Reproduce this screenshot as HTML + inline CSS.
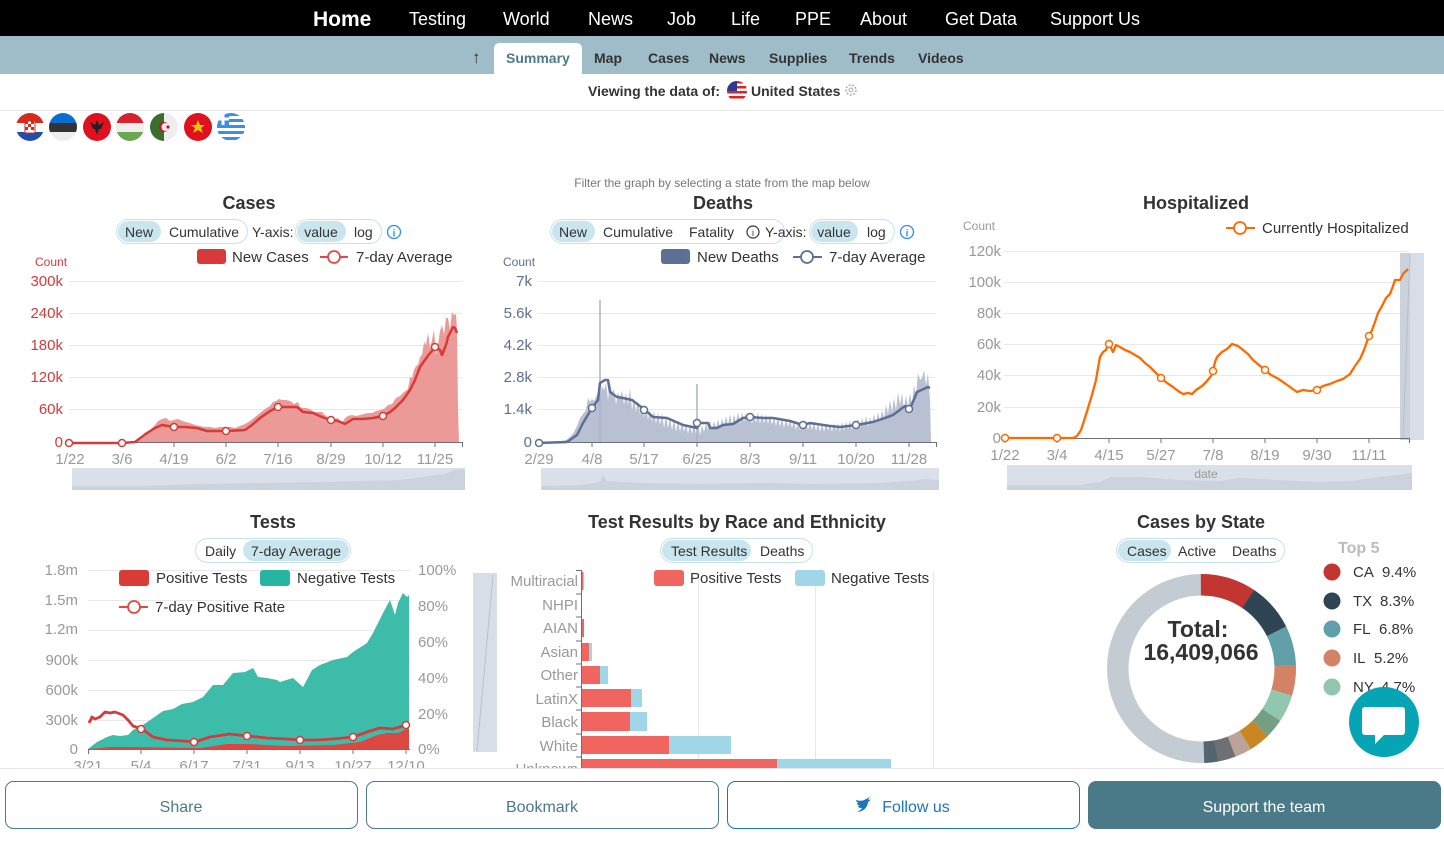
<!DOCTYPE html>
<html><head><meta charset="utf-8">
<style>
html,body{margin:0;padding:0;background:#fff;}
body{width:1444px;height:841px;overflow:hidden;position:relative;font-family:"Liberation Sans",sans-serif;}
svg text{font-family:"Liberation Sans",sans-serif;}
</style></head>
<body>
<svg width="1444" height="841" viewBox="0 0 1444 841" style="position:absolute;left:0;top:0">
<defs>
<clipPath id="fc"><circle cx="0" cy="0" r="14"/></clipPath>
<clipPath id="usc"><circle cx="0" cy="0" r="10"/></clipPath>
</defs>
<!-- top nav -->
<rect x="0" y="0" width="1444" height="36" fill="#000"/>
<g fill="#fff" font-size="18">
<text x="313" y="26" font-size="21" font-weight="bold">Home</text>
<text x="409" y="25">Testing</text>
<text x="503" y="25">World</text>
<text x="588" y="25">News</text>
<text x="667" y="25">Job</text>
<text x="731" y="25">Life</text>
<text x="795" y="25">PPE</text>
<text x="860" y="25">About</text>
<text x="945" y="25">Get Data</text>
<text x="1050" y="25">Support Us</text>
</g>
<!-- sub nav -->
<rect x="0" y="36" width="1444" height="38" fill="#9ebdc8"/>
<path d="M494,74 V49 Q494,43 500,43 H576 Q582,43 582,49 V74 Z" fill="#fff"/>
<g font-size="14" font-weight="bold" fill="#333">
<text x="472" y="63" font-weight="normal" font-size="17">↑</text>
<text x="506" y="63" fill="#4b7b8a">Summary</text>
<text x="594" y="63">Map</text>
<text x="648" y="63">Cases</text>
<text x="709" y="63">News</text>
<text x="769" y="63">Supplies</text>
<text x="849" y="63">Trends</text>
<text x="918" y="63">Videos</text>
</g>
<!-- viewing -->
<text x="588" y="96" font-size="14" font-weight="bold" fill="#333">Viewing the data of:</text>
<g transform="translate(737,91)" clip-path="url(#usc)">
<rect x="-10" y="-10" width="20" height="20" fill="#fff"/>
<rect x="-10" y="-10" width="20" height="2.5" fill="#d22"/>
<rect x="-10" y="-5" width="20" height="2.5" fill="#d22"/>
<rect x="-10" y="0" width="20" height="2.5" fill="#d22"/>
<rect x="-10" y="5" width="20" height="2.5" fill="#d22"/>
<rect x="-10" y="-10" width="10" height="10" fill="#2b3a8c"/>
</g>
<text x="751" y="96" font-size="14" font-weight="bold" fill="#333">United States</text>
<circle cx="851" cy="90" r="5" fill="none" stroke="#aaa" stroke-width="1.5" stroke-dasharray="2 1.5"/>
<circle cx="851" cy="90" r="2" fill="none" stroke="#aaa"/>
<line x1="0" y1="110.5" x2="1444" y2="110.5" stroke="#e8e8e8"/>
<!-- flags -->
<g transform="translate(30,127)" clip-path="url(#fc)">
<rect x="-14" y="-14" width="28" height="10" fill="#d52b1e"/><rect x="-14" y="-4" width="28" height="9" fill="#fff"/><rect x="-14" y="5" width="28" height="9" fill="#1f4fa8"/>
<rect x="-5" y="-6" width="10" height="12" fill="#fff" stroke="#d52b1e"/><rect x="-5" y="-6" width="3" height="3" fill="#d52b1e"/><rect x="1" y="-6" width="3" height="3" fill="#d52b1e"/><rect x="-2" y="-3" width="3" height="3" fill="#d52b1e"/><rect x="-5" y="0" width="3" height="3" fill="#d52b1e"/><rect x="1" y="0" width="3" height="3" fill="#d52b1e"/>
</g>
<g transform="translate(63,127)" clip-path="url(#fc)">
<rect x="-14" y="-14" width="28" height="10" fill="#0a6ed1"/><rect x="-14" y="-4" width="28" height="9" fill="#333"/><rect x="-14" y="5" width="28" height="9" fill="#eee"/>
</g>
<g transform="translate(97,127)" clip-path="url(#fc)">
<rect x="-14" y="-14" width="28" height="28" fill="#e0101f"/>
<path d="M-7,-5 L-2,-2 L0,-7 L2,-2 L7,-5 L4,2 L2,2 L0,8 L-2,2 L-4,2 Z" fill="#222"/>
</g>
<g transform="translate(130,127)" clip-path="url(#fc)">
<rect x="-14" y="-14" width="28" height="10" fill="#d8202f"/><rect x="-14" y="-4" width="28" height="9" fill="#eee"/><rect x="-14" y="5" width="28" height="9" fill="#6aa84f"/>
</g>
<g transform="translate(164,127)" clip-path="url(#fc)">
<rect x="-14" y="-14" width="14" height="28" fill="#3c6e2b"/><rect x="0" y="-14" width="14" height="28" fill="#eee"/>
<circle cx="0" cy="0" r="5" fill="#d21034"/><circle cx="1.5" cy="0" r="4" fill="#eee"/><circle cx="4" cy="0" r="1.6" fill="#d21034"/>
</g>
<g transform="translate(198,127)" clip-path="url(#fc)">
<rect x="-14" y="-14" width="28" height="28" fill="#e0101f"/>
<polygon points="0,-7 2,-2 7,-2 3,1 5,6 0,3 -5,6 -3,1 -7,-2 -2,-2" fill="#f5c400"/>
</g>
<g transform="translate(231,127)" clip-path="url(#fc)">
<rect x="-14" y="-14" width="28" height="28" fill="#fff"/>
<rect x="-14" y="-14" width="28" height="3" fill="#3d8ee8"/><rect x="-14" y="-8" width="28" height="3" fill="#3d8ee8"/><rect x="-14" y="-2" width="28" height="3" fill="#3d8ee8"/><rect x="-14" y="4" width="28" height="3" fill="#3d8ee8"/><rect x="-14" y="10" width="28" height="3" fill="#3d8ee8"/>
<rect x="-14" y="-14" width="12" height="12" fill="#3d8ee8"/><rect x="-9.5" y="-14" width="3" height="12" fill="#fff"/><rect x="-14" y="-9.5" width="12" height="3" fill="#fff"/>
</g>

<!-- ============ CASES ============ -->
<text x="249" y="209" text-anchor="middle" font-size="18" font-weight="bold" fill="#333">Cases</text>
<rect x="116.5" y="219.5" width="131" height="24" rx="12" fill="#fff" stroke="#c6e2eb"/>
<rect x="118" y="221" width="43" height="21" rx="10.5" fill="#c9e5ee"/>
<rect x="295.5" y="219.5" width="86" height="24" rx="12" fill="#fff" stroke="#c6e2eb"/>
<rect x="297" y="221" width="49" height="21" rx="10.5" fill="#c9e5ee"/>
<g font-size="14" fill="#333">
<text x="139" y="237" text-anchor="middle">New</text>
<text x="169" y="237">Cumulative</text>
<text x="252" y="237">Y-axis:</text>
<text x="321" y="237" text-anchor="middle">value</text>
<text x="354" y="237">log</text>
</g>
<circle cx="394" cy="232" r="6.5" fill="none" stroke="#2f8cf0" stroke-width="1.3"/><text x="394" y="236.5" text-anchor="middle" font-size="10" fill="#2f8cf0" font-weight="bold">i</text>
<rect x="197" y="249" width="29" height="15" rx="3" fill="#d63a3a"/>
<text x="232" y="262" font-size="15" fill="#333">New Cases</text>
<line x1="320" y1="257" x2="348" y2="257" stroke="#e04848" stroke-width="2"/><circle cx="334" cy="257" r="6" fill="#fff" stroke="#e04848" stroke-width="1.8"/>
<text x="356" y="262" font-size="15" fill="#333">7-day Average</text>
<text x="35" y="266" font-size="12" fill="#d63a3a">Count</text>
<g stroke="#e8e8e8"><line x1="69" y1="281.5" x2="462" y2="281.5"/><line x1="69" y1="313.5" x2="462" y2="313.5"/><line x1="69" y1="345.5" x2="462" y2="345.5"/><line x1="69" y1="377.5" x2="462" y2="377.5"/><line x1="69" y1="409.5" x2="462" y2="409.5"/></g>
<g font-size="15" fill="#d63a3a" text-anchor="end">
<text x="63" y="286">300k</text><text x="63" y="318">240k</text><text x="63" y="350">180k</text><text x="63" y="382">120k</text><text x="63" y="414">60k</text><text x="63" y="447">0</text>
</g>
<polygon fill="#eb9a97" points="135,442 140,440 145,436 150,430 155,425 158,421 162,419 166,418 170,421 174,420 178,419 182,421 186,422 190,423 195,425 200,426 205,427 210,427 215,428 220,427 225,427 230,427 235,428 240,426 245,424 250,421 255,417 260,413 265,409 270,406 273,402 276,401 279,399 282,400 286,400 290,401 294,404 298,402 300,407 303,408 306,408 310,409 314,412 318,412 322,412 326,416 330,418 334,419 338,418 342,423 345,418 348,416 352,415 356,416 360,415 364,414 368,413 372,413 376,411 380,410 384,409 388,405 392,404 396,398 400,396 404,392 408,389 410,377 412,378 414,370 416,366 418,365 420,357 422,355 424,342 426,345 428,333 430,348 432,340 434,330 436,355 438,345 440,331 442,325 444,335 446,318 448,318 450,330 452,312 454,315 456,314 457,330 458,409 459,442"/>
<line x1="69" y1="442.5" x2="463" y2="442.5" stroke="#6e7079"/>
<g stroke="#6e7079"><line x1="69.5" y1="442" x2="69.5" y2="447"/><line x1="122" y1="442" x2="122" y2="447"/><line x1="174" y1="442" x2="174" y2="447"/><line x1="226" y1="442" x2="226" y2="447"/><line x1="278" y1="442" x2="278" y2="447"/><line x1="331" y1="442" x2="331" y2="447"/><line x1="383" y1="442" x2="383" y2="447"/><line x1="435" y1="442" x2="435" y2="447"/><line x1="462.5" y1="442" x2="462.5" y2="447"/></g>
<polyline fill="none" stroke="#d63a3a" stroke-width="2.5" stroke-linejoin="round" points="69,443 122,443 135,442 147,433 155,428 162,425 168,426 173,427 185,427 197,428 207,431 227,431 245,430 252,425 260,418 270,411 278,407 290,407 297,407 303,412 313,413 322,417 330,420 338,421 345,424 353,419 363,419 373,418 383,416 390,412 395,408 403,400 410,390 415,380 420,367 427,357 435,347 440,350 442,355 446,345 448,337 453,327 455,328 457,333"/>
<g fill="#fff" stroke="#d63a3a" stroke-width="1.5"><circle cx="69" cy="443" r="3.5"/><circle cx="122" cy="443" r="3.5"/><circle cx="174" cy="427" r="3.5"/><circle cx="226" cy="431" r="3.5"/><circle cx="278" cy="407" r="3.5"/><circle cx="331" cy="420" r="3.5"/><circle cx="383" cy="416" r="3.5"/><circle cx="435" cy="347" r="3.5"/></g>
<g font-size="15" fill="#999" text-anchor="middle"><text x="70" y="464">1/22</text><text x="122" y="464">3/6</text><text x="174" y="464">4/19</text><text x="226" y="464">6/2</text><text x="278" y="464">7/16</text><text x="331" y="464">8/29</text><text x="383" y="464">10/12</text><text x="435" y="464">11/25</text></g>
<rect x="72" y="468" width="393" height="22" fill="#dae0e9"/>
<path d="M72,486 L140,486 L200,484 L260,483 L330,482 L400,480 L430,476 L445,474 L455,470 L465,469 L465,490 L72,490 Z" fill="#ccd3de"/>

<!-- ============ DEATHS ============ -->
<text x="722" y="187" text-anchor="middle" font-size="12" fill="#777">Filter the graph by selecting a state from the map below</text>
<text x="723" y="209" text-anchor="middle" font-size="18" font-weight="bold" fill="#333">Deaths</text>
<rect x="550.5" y="219.5" width="234" height="24" rx="12" fill="#fff" stroke="#c6e2eb"/>
<rect x="552" y="221" width="43" height="21" rx="10.5" fill="#c9e5ee"/>
<rect x="809.5" y="219.5" width="85" height="24" rx="12" fill="#fff" stroke="#c6e2eb"/>
<rect x="811" y="221" width="47" height="21" rx="10.5" fill="#c9e5ee"/>
<g font-size="14" fill="#333">
<text x="573" y="237" text-anchor="middle">New</text>
<text x="603" y="237">Cumulative</text>
<text x="689" y="237">Fatality</text>
<text x="765" y="237">Y-axis:</text>
<text x="834" y="237" text-anchor="middle">value</text>
<text x="867" y="237">log</text>
</g>
<circle cx="753" cy="232" r="6" fill="none" stroke="#333" stroke-width="1.2"/><text x="753" y="236" text-anchor="middle" font-size="9" fill="#333">i</text>
<circle cx="907" cy="232" r="6.5" fill="none" stroke="#2f8cf0" stroke-width="1.3"/><text x="907" y="236.5" text-anchor="middle" font-size="10" fill="#2f8cf0" font-weight="bold">i</text>
<rect x="661" y="249" width="29" height="15" rx="3" fill="#5d6f92"/>
<text x="697" y="262" font-size="15" fill="#333">New Deaths</text>
<line x1="793" y1="257" x2="822" y2="257" stroke="#5d6f92" stroke-width="2"/><circle cx="807" cy="257" r="6" fill="#fff" stroke="#5d6f92" stroke-width="1.8"/>
<text x="829" y="262" font-size="15" fill="#333">7-day Average</text>
<text x="503" y="266" font-size="12" fill="#5d6f92">Count</text>
<g stroke="#e8e8e8"><line x1="538" y1="281.5" x2="935" y2="281.5"/><line x1="538" y1="313.5" x2="935" y2="313.5"/><line x1="538" y1="345.5" x2="935" y2="345.5"/><line x1="538" y1="377.5" x2="935" y2="377.5"/><line x1="538" y1="409.5" x2="935" y2="409.5"/></g>
<g font-size="15" fill="#5d6f92" text-anchor="end">
<text x="532" y="286">7k</text><text x="532" y="318">5.6k</text><text x="532" y="350">4.2k</text><text x="532" y="382">2.8k</text><text x="532" y="414">1.4k</text><text x="532" y="447">0</text>
</g>
<polygon fill="#b8c0d2" points="560,442 566,440 570,437 574,432 577,426 580,418 583,414 586,410 588,398 590,402 592,399 594,401 596,397 598,392 600,398 602,386 604,390 606,383 608,400 610,383 612,392 614,389 616,405 618,392 620,398 622,390 624,405 626,393 628,405 630,388 632,410 634,398 636,412 638,400 640,415 642,404 644,418 646,405 648,420 650,410 652,422 654,411 656,424 658,412 660,425 662,413 664,428 666,416 668,428 670,418 672,430 674,419 676,432 678,420 680,432 682,421 684,432 686,424 688,434 690,425 692,434 694,424 696,434 698,423 700,435 702,425 704,432 706,423 708,430 710,420 712,430 714,421 716,428 718,419 720,428 722,418 724,426 726,416 728,425 730,414 732,425 734,414 736,423 738,412 740,424 742,412 744,422 746,413 748,422 750,414 752,424 754,414 756,423 758,412 760,424 762,413 764,424 766,414 768,424 770,415 772,425 774,417 776,426 778,417 780,427 782,418 784,428 786,419 788,427 790,420 792,428 794,421 796,430 798,422 800,430 802,421 804,428 806,420 808,430 810,422 812,430 814,422 816,431 818,423 820,432 822,423 824,432 826,423 828,431 830,424 832,432 834,423 836,431 838,423 840,432 842,422 844,431 846,421 848,430 850,420 852,430 854,420 856,428 858,418 860,428 862,418 864,426 866,416 868,427 870,417 872,425 874,414 876,423 878,412 880,421 882,410 884,418 886,405 888,414 890,400 892,412 894,398 896,410 898,392 900,405 902,393 904,410 906,395 908,408 910,393 912,405 914,385 916,395 918,373 920,380 922,378 924,370 926,385 928,373 930,400 931,442"/>
<line x1="600" y1="300" x2="600" y2="442" stroke="#aab3c8" stroke-width="1.5"/>
<line x1="697" y1="384" x2="697" y2="442" stroke="#aab3c8" stroke-width="1.5"/>
<line x1="538" y1="442.5" x2="937" y2="442.5" stroke="#6e7079"/>
<g stroke="#6e7079"><line x1="539" y1="442" x2="539" y2="447"/><line x1="592" y1="442" x2="592" y2="447"/><line x1="644" y1="442" x2="644" y2="447"/><line x1="697" y1="442" x2="697" y2="447"/><line x1="750" y1="442" x2="750" y2="447"/><line x1="803" y1="442" x2="803" y2="447"/><line x1="856" y1="442" x2="856" y2="447"/><line x1="909" y1="442" x2="909" y2="447"/><line x1="936.5" y1="442" x2="936.5" y2="447"/></g>
<polyline fill="none" stroke="#5d6f92" stroke-width="2.5" stroke-linejoin="round" points="538,443 567,442 577,435 583,423 592,408 598,400 600,383 605,380 608,380 610,392 617,397 623,398 632,400 645,410 653,417 667,418 683,425 697,428 700,423 708,423 710,428 717,428 723,425 733,424 743,418 750,417 763,418 773,418 790,421 803,425 810,423 830,426 840,427 857,425 873,422 885,418 893,415 905,406 910,409 917,392 928,387 930,388"/>
<g fill="#fff" stroke="#5d6f92" stroke-width="1.5"><circle cx="539" cy="443" r="3.5"/><circle cx="592" cy="408" r="3.5"/><circle cx="644" cy="410" r="3.5"/><circle cx="697" cy="423" r="3.5"/><circle cx="750" cy="417" r="3.5"/><circle cx="803" cy="425" r="3.5"/><circle cx="856" cy="425" r="3.5"/><circle cx="909" cy="409" r="3.5"/></g>
<g font-size="15" fill="#999" text-anchor="middle"><text x="539" y="464">2/29</text><text x="592" y="464">4/8</text><text x="644" y="464">5/17</text><text x="697" y="464">6/25</text><text x="750" y="464">8/3</text><text x="803" y="464">9/11</text><text x="856" y="464">10/20</text><text x="909" y="464">11/28</text></g>
<rect x="541" y="468" width="398" height="22" fill="#dae0e9"/>
<path d="M541,486 L580,485 L600,482 L603,474 L606,481 L640,483 L700,484 L760,483 L820,484 L880,483 L910,481 L925,479 L939,480 L939,490 L541,490 Z" fill="#ccd3de"/>

<!-- ============ HOSPITALIZED ============ -->
<text x="1196" y="209" text-anchor="middle" font-size="18" font-weight="bold" fill="#333">Hospitalized</text>
<line x1="1226" y1="228" x2="1255" y2="228" stroke="#ff6a00" stroke-width="2"/><circle cx="1240" cy="228" r="6" fill="#fff" stroke="#ff6a00" stroke-width="1.8"/>
<text x="1262" y="233" font-size="15" fill="#333">Currently Hospitalized</text>
<text x="963" y="230" font-size="12" fill="#999">Count</text>
<g stroke="#e8e8e8"><line x1="1004" y1="251.5" x2="1409" y2="251.5"/><line x1="1004" y1="282.5" x2="1409" y2="282.5"/><line x1="1004" y1="313.5" x2="1409" y2="313.5"/><line x1="1004" y1="344.5" x2="1409" y2="344.5"/><line x1="1004" y1="375.5" x2="1409" y2="375.5"/><line x1="1004" y1="407.5" x2="1409" y2="407.5"/></g>
<g font-size="15" fill="#999" text-anchor="end">
<text x="1001" y="256">120k</text><text x="1001" y="287">100k</text><text x="1001" y="318">80k</text><text x="1001" y="349">60k</text><text x="1001" y="380">40k</text><text x="1001" y="412">20k</text><text x="1001" y="443">0</text>
</g>
<rect x="1400" y="253" width="24" height="187" fill="#d8dee7"/>
<rect x="1400" y="253" width="10" height="187" fill="#cbd2dc"/>
<line x1="1403" y1="438" x2="1410" y2="254" stroke="#b8c0cc"/>
<line x1="1004" y1="438.5" x2="1410" y2="438.5" stroke="#6e7079"/>
<g stroke="#6e7079"><line x1="1005" y1="438" x2="1005" y2="443"/><line x1="1057" y1="438" x2="1057" y2="443"/><line x1="1109" y1="438" x2="1109" y2="443"/><line x1="1161" y1="438" x2="1161" y2="443"/><line x1="1213" y1="438" x2="1213" y2="443"/><line x1="1265" y1="438" x2="1265" y2="443"/><line x1="1317" y1="438" x2="1317" y2="443"/><line x1="1369" y1="438" x2="1369" y2="443"/><line x1="1409.5" y1="438" x2="1409.5" y2="443"/></g>
<polyline fill="none" stroke="#ff6a00" stroke-width="2.3" stroke-linejoin="round" points="1004,438 1073,438 1077,436 1081,430 1084,421 1088,408 1092,395 1096,380 1098,368 1100,357 1103,352 1106,350 1108,344 1111,348 1113,352 1116,345 1120,347 1125,350 1130,352 1135,355 1140,358 1145,363 1150,367 1155,372 1161,378 1167,383 1173,387 1178,391 1183,394 1188,393 1192,394 1196,390 1202,386 1207,381 1211,376 1213,371 1215,362 1217,357 1222,352 1227,349 1232,344 1238,346 1243,350 1248,354 1253,360 1259,365 1265,370 1271,375 1277,378 1283,382 1290,387 1297,392 1303,390 1310,391 1317,390 1323,386 1330,384 1337,381 1343,379 1350,374 1355,366 1360,359 1364,350 1369,336 1372,330 1375,322 1378,313 1382,306 1386,298 1390,294 1393,286 1395,280 1400,280 1403,274 1408,269"/>
<g fill="#fff" stroke="#ff6a00" stroke-width="1.5"><circle cx="1005" cy="438" r="3.5"/><circle cx="1057" cy="438" r="3.5"/><circle cx="1109" cy="344" r="3.5"/><circle cx="1161" cy="378" r="3.5"/><circle cx="1213" cy="371" r="3.5"/><circle cx="1265" cy="370" r="3.5"/><circle cx="1317" cy="390" r="3.5"/><circle cx="1369" cy="336" r="3.5"/></g>
<g font-size="15" fill="#999" text-anchor="middle"><text x="1005" y="460">1/22</text><text x="1057" y="460">3/4</text><text x="1109" y="460">4/15</text><text x="1161" y="460">5/27</text><text x="1213" y="460">7/8</text><text x="1265" y="460">8/19</text><text x="1317" y="460">9/30</text><text x="1369" y="460">11/11</text></g>
<rect x="1007" y="465" width="405" height="25" fill="#dae0e9"/>
<path d="M1007,485 L1080,485 L1100,482 L1110,477 L1140,477 L1180,480 L1220,481 L1240,478 L1280,480 L1320,482 L1350,481 L1380,477 L1412,473 L1412,490 L1007,490 Z" fill="#ccd3de"/>
<text x="1206" y="478" text-anchor="middle" font-size="12" fill="#999">date</text>

<!-- ============ TESTS ============ -->
<text x="273" y="528" text-anchor="middle" font-size="18" font-weight="bold" fill="#333">Tests</text>
<rect x="195.5" y="538.5" width="155" height="24" rx="12" fill="#fff" stroke="#c6e2eb"/>
<rect x="243" y="540" width="106" height="21" rx="10.5" fill="#c9e5ee"/>
<g font-size="14" fill="#333"><text x="205" y="556">Daily</text><text x="251" y="556">7-day Average</text></g>
<g stroke="#e8e8e8"><line x1="88" y1="570.5" x2="410" y2="570.5"/><line x1="88" y1="600.5" x2="410" y2="600.5"/><line x1="88" y1="630.5" x2="410" y2="630.5"/><line x1="88" y1="660.5" x2="410" y2="660.5"/><line x1="88" y1="690.5" x2="410" y2="690.5"/><line x1="88" y1="720.5" x2="410" y2="720.5"/></g>
<g font-size="15" fill="#999" text-anchor="end">
<text x="78" y="575">1.8m</text><text x="78" y="605">1.5m</text><text x="78" y="634">1.2m</text><text x="78" y="665">900k</text><text x="78" y="695">600k</text><text x="78" y="725">300k</text><text x="78" y="754">0</text>
</g>
<g font-size="15" fill="#999">
<text x="418" y="575">100%</text><text x="418" y="611">80%</text><text x="418" y="647">60%</text><text x="418" y="683">40%</text><text x="418" y="719">20%</text><text x="418" y="754">0%</text>
</g>
<polygon fill="#3ebcaa" points="88,749 97,742 107,737 113,735 120,736 128,735 133,730 143,725 153,718 163,711 173,709 182,704 193,702 203,697 213,685 223,685 233,673 245,672 253,668 258,677 267,678 277,680 280,682 293,678 303,687 312,670 320,665 333,660 347,657 353,652 367,643 373,633 383,613 390,600 395,615 398,603 403,593 407,597 409,595 409,749"/>
<polygon fill="#db4842" points="88,749 100,748 110,747 133,747 200,748 227,744 250,744 283,746 333,745 360,742 377,735 387,733 398,733 407,729 409,729 409,749"/>
<rect x="119" y="570" width="30" height="16" rx="3" fill="#d93b36"/>
<text x="156" y="583" font-size="15" fill="#333">Positive Tests</text>
<rect x="260" y="570" width="30" height="16" rx="3" fill="#26b5a0"/>
<text x="297" y="583" font-size="15" fill="#333">Negative Tests</text>
<line x1="119" y1="607" x2="148" y2="607" stroke="#e04848" stroke-width="2"/><circle cx="134" cy="607" r="6" fill="#fff" stroke="#e04848" stroke-width="1.8"/>
<text x="155" y="612" font-size="15" fill="#333">7-day Positive Rate</text>
<polyline fill="none" stroke="#d63a3a" stroke-width="2.8" stroke-linejoin="round" points="89,723 92,717 95,719 100,717 105,712 110,713 115,712 123,715 128,720 133,726 142,729 153,737 167,740 183,741 195,742 210,737 230,734 247,736 267,738 287,739 301,740 317,740 333,739 353,737 367,732 380,728 393,729 406,725"/>
<g fill="#fff" stroke="#d63a3a" stroke-width="1.5"><circle cx="141" cy="729" r="3.5"/><circle cx="194" cy="742" r="3.5"/><circle cx="247" cy="736" r="3.5"/><circle cx="300" cy="740" r="3.5"/><circle cx="353" cy="737" r="3.5"/><circle cx="406" cy="725" r="3.5"/></g>
<line x1="88" y1="749.5" x2="410" y2="749.5" stroke="#6e7079"/>
<g stroke="#6e7079"><line x1="88.5" y1="749" x2="88.5" y2="754"/><line x1="141" y1="749" x2="141" y2="754"/><line x1="194" y1="749" x2="194" y2="754"/><line x1="247" y1="749" x2="247" y2="754"/><line x1="300" y1="749" x2="300" y2="754"/><line x1="353" y1="749" x2="353" y2="754"/><line x1="406" y1="749" x2="406" y2="754"/></g>
<g font-size="15" fill="#999" text-anchor="middle"><text x="88" y="771">3/21</text><text x="141" y="771">5/4</text><text x="194" y="771">6/17</text><text x="247" y="771">7/31</text><text x="300" y="771">9/13</text><text x="353" y="771">10/27</text><text x="406" y="771">12/10</text></g>

<!-- ============ RACE ============ -->
<text x="737" y="528" text-anchor="middle" font-size="18" font-weight="bold" fill="#333">Test Results by Race and Ethnicity</text>
<rect x="660.5" y="538.5" width="152" height="24" rx="12" fill="#fff" stroke="#c6e2eb"/>
<rect x="662" y="540" width="89" height="21" rx="10.5" fill="#c9e5ee"/>
<g font-size="14" fill="#333"><text x="671" y="556">Test Results</text><text x="760" y="556">Deaths</text></g>
<rect x="473" y="573" width="24" height="179" fill="#d8dee7"/>
<line x1="477" y1="751" x2="493" y2="575" stroke="#b8c0cc"/>
<g stroke="#e8e8e8"><line x1="698.5" y1="572" x2="698.5" y2="768"/><line x1="815.5" y1="572" x2="815.5" y2="768"/><line x1="933.5" y1="572" x2="933.5" y2="768"/></g>
<g font-size="15" fill="#999" text-anchor="end">
<text x="578" y="586">Multiracial</text><text x="578" y="610">NHPI</text><text x="578" y="633">AIAN</text><text x="578" y="657">Asian</text><text x="578" y="680">Other</text><text x="578" y="704">LatinX</text><text x="578" y="727">Black</text><text x="578" y="751">White</text><text x="578" y="774">Unknown</text>
</g>
<g fill="#f0655f">
<rect x="581" y="572" width="2.5" height="18"/><rect x="581" y="596" width="1" height="18" fill="#f5b5b0"/><rect x="581" y="619" width="3" height="18"/><rect x="581" y="643" width="8" height="18"/><rect x="581" y="666" width="19" height="18"/><rect x="581" y="689" width="50" height="18"/><rect x="581" y="712" width="49" height="19"/><rect x="581" y="736" width="88" height="18"/><rect x="581" y="759" width="196" height="18"/>
</g>
<g fill="#9fd6e8">
<rect x="589" y="643" width="3" height="18"/><rect x="600" y="666" width="8" height="18"/><rect x="631" y="689" width="11" height="18"/><rect x="630" y="712" width="17" height="19"/><rect x="669" y="736" width="62" height="18"/><rect x="777" y="759" width="114" height="18"/>
</g>
<line x1="581.5" y1="570" x2="581.5" y2="768" stroke="#6e7079"/>
<g stroke="#6e7079"><line x1="576" y1="570.5" x2="581" y2="570.5"/><line x1="576" y1="594" x2="581" y2="594"/><line x1="576" y1="617" x2="581" y2="617"/><line x1="576" y1="641" x2="581" y2="641"/><line x1="576" y1="664" x2="581" y2="664"/><line x1="576" y1="687" x2="581" y2="687"/><line x1="576" y1="710" x2="581" y2="710"/><line x1="576" y1="734" x2="581" y2="734"/><line x1="576" y1="757" x2="581" y2="757"/></g>
<rect x="654" y="570" width="30" height="16" rx="3" fill="#f0655f"/>
<text x="690" y="583" font-size="15" fill="#333">Positive Tests</text>
<rect x="795" y="570" width="30" height="16" rx="3" fill="#9fd6e8"/>
<text x="831" y="583" font-size="15" fill="#333">Negative Tests</text>

<!-- ============ CASES BY STATE ============ -->
<text x="1201" y="528" text-anchor="middle" font-size="18" font-weight="bold" fill="#333">Cases by State</text>
<rect x="1116.5" y="538.5" width="168" height="24" rx="12" fill="#fff" stroke="#c6e2eb"/>
<rect x="1118" y="540" width="53" height="21" rx="10.5" fill="#c9e5ee"/>
<g font-size="14" fill="#333"><text x="1127" y="556">Cases</text><text x="1178" y="556">Active</text><text x="1232" y="556">Deaths</text></g>
<g transform="rotate(-90 1201.5 668.5)" fill="none" stroke-width="21.5">
<circle cx="1201.5" cy="668.5" r="83.75" pathLength="100" stroke="#c4ccd3"/>
<circle cx="1201.5" cy="668.5" r="83.75" pathLength="100" stroke="#c23531" stroke-dasharray="9.4 90.6" stroke-dashoffset="0"/>
<circle cx="1201.5" cy="668.5" r="83.75" pathLength="100" stroke="#2f4554" stroke-dasharray="8.3 91.7" stroke-dashoffset="-9.4"/>
<circle cx="1201.5" cy="668.5" r="83.75" pathLength="100" stroke="#61a0a8" stroke-dasharray="6.8 93.2" stroke-dashoffset="-17.7"/>
<circle cx="1201.5" cy="668.5" r="83.75" pathLength="100" stroke="#d48265" stroke-dasharray="5.2 94.8" stroke-dashoffset="-24.5"/>
<circle cx="1201.5" cy="668.5" r="83.75" pathLength="100" stroke="#91c7ae" stroke-dasharray="4.7 95.3" stroke-dashoffset="-29.7"/>
<circle cx="1201.5" cy="668.5" r="83.75" pathLength="100" stroke="#749f83" stroke-dasharray="3.3 96.7" stroke-dashoffset="-34.4"/>
<circle cx="1201.5" cy="668.5" r="83.75" pathLength="100" stroke="#ca8622" stroke-dasharray="3.6 96.4" stroke-dashoffset="-37.7"/>
<circle cx="1201.5" cy="668.5" r="83.75" pathLength="100" stroke="#bda29a" stroke-dasharray="2.9 97.1" stroke-dashoffset="-41.3"/>
<circle cx="1201.5" cy="668.5" r="83.75" pathLength="100" stroke="#6e7074" stroke-dasharray="3.0 97.0" stroke-dashoffset="-44.2"/>
<circle cx="1201.5" cy="668.5" r="83.75" pathLength="100" stroke="#546570" stroke-dasharray="2.4 97.6" stroke-dashoffset="-47.2"/>
</g>
<text x="1198" y="637" text-anchor="middle" font-size="23" font-weight="bold" fill="#333">Total:</text>
<text x="1201" y="660" text-anchor="middle" font-size="23" font-weight="bold" fill="#333">16,409,066</text>
<text x="1338" y="553" font-size="16" font-weight="bold" fill="#bbb">Top 5</text>
<circle cx="1332" cy="572" r="8.5" fill="#c23531"/><circle cx="1332" cy="601" r="8.5" fill="#2f4554"/><circle cx="1332" cy="629" r="8.5" fill="#61a0a8"/><circle cx="1332" cy="658" r="8.5" fill="#d48265"/><circle cx="1332" cy="687" r="8.5" fill="#91c7ae"/>
<g font-size="15" fill="#333">
<text x="1353" y="577">CA</text><text x="1382" y="577">9.4%</text>
<text x="1353" y="606">TX</text><text x="1380" y="606">8.3%</text>
<text x="1353" y="634">FL</text><text x="1379" y="634">6.8%</text>
<text x="1353" y="663">IL</text><text x="1374" y="663">5.2%</text>
<text x="1353" y="692">NY</text><text x="1381" y="692">4.7%</text>
</g>
<!-- chat bubble -->
<circle cx="1384" cy="722" r="35" fill="#05a5b5"/>
<rect x="1362" y="707" width="43" height="28" rx="3" fill="#fff"/>
<polygon points="1375,734 1375,744 1385,734" fill="#fff"/>

<!-- ============ FOOTER ============ -->
<rect x="0" y="768" width="1444" height="73" fill="#fff"/>
<line x1="0" y1="768.5" x2="1444" y2="768.5" stroke="#e6e6e6"/>
<rect x="5.5" y="781.5" width="352" height="47" rx="8" fill="#fff" stroke="#4a7a87"/>
<rect x="366.5" y="781.5" width="352" height="47" rx="8" fill="#fff" stroke="#4a7a87"/>
<rect x="727.5" y="781.5" width="352" height="47" rx="8" fill="#fff" stroke="#1a75bb"/>
<rect x="1088" y="781" width="353" height="48" rx="8" fill="#4a7a87"/>
<g font-size="16" text-anchor="middle">
<text x="181" y="812" fill="#4a7a87">Share</text>
<text x="542" y="812" fill="#4a7a87">Bookmark</text>
<text x="916" y="812" fill="#1a75bb">Follow us</text>
<text x="1264" y="812" fill="#fff">Support the team</text>
</g>
<path d="M856,800 Q862,802 866,799 Q869,798 870,796 Q869,799 868,800 Q870,800 871,799 Q870,801 868,802 Q867,811 857,812 Q861,810 862,808 Q858,808 858,806 L860,806 Q857,805 857,803 L859,803 Q856,802 856,800 Z" fill="#1a75bb"/>
</svg>
</body></html>
